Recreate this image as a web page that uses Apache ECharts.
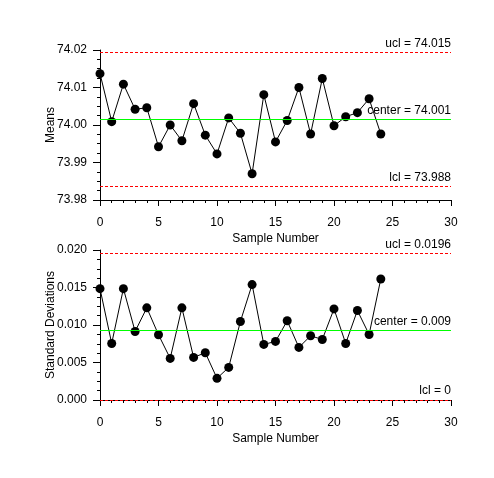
<!DOCTYPE html>
<html>
<head>
<meta charset="utf-8">
<script src="https://cdn.jsdelivr.net/npm/echarts@6/dist/echarts.min.js"></script>
<style>html,body{margin:0;padding:0;background:#fff}#c{width:494px;height:478px}</style>
</head>
<body>
<div id="c"></div>
<script>
const samples = [0,1,2,3,4,5,6,7,8,9,10,11,12,13,14,15,16,17,18,19,20,21,22,23,24];
const means = [74.0137,74.0009,74.0109,74.0042,74.0046,73.9942,74.0000,73.9958,74.0057,73.9973,73.9923,74.0019,73.9978,73.9870,74.0081,73.9955,74.0012,74.0100,73.9976,74.0124,73.9998,74.0022,74.0033,74.0070,73.9976];
const sds = [0.01485,0.00754,0.01485,0.00914,0.01229,0.00870,0.00555,0.01229,0.00568,0.00630,0.00289,0.00435,0.01047,0.01539,0.00741,0.00781,0.01056,0.00701,0.00856,0.00807,0.01215,0.00754,0.01193,0.00874,0.01614];
const meanLimits = [74.01933, 74.00147, 73.98360];
const meanLimitLabels = ['ucl = 74.015', 'center = 74.001', 'lcl = 73.988'];
const sdLimits = [0.019535, 0.009295, 0];
const sdLimitLabels = ['ucl = 0.0196', 'center = 0.009', 'lcl = 0'];
const xTicks = [0, 30, 5];
const meanTicks = [73.98, 74.02, 0.01];
const sdTicks = [0, 0.02, 0.005];

const FONT = 'Liberation Sans';
const chart = echarts.init(document.getElementById('c'));

function xAxis(idx) {
  return {
    type: 'value', gridIndex: idx, min: xTicks[0], max: xTicks[1], interval: xTicks[2],
    name: 'Sample Number', nameLocation: 'middle', nameGap: 33, nameMoveOverlap: false,
    nameTextStyle: {fontFamily: FONT, fontSize: 12, color: '#000'},
    axisLine: {show: true, lineStyle: {color: '#000', width: 1}},
    axisTick: {show: true, length: 6, lineStyle: {color: '#000'}},
    minorTick: {show: true, splitNumber: 5, length: 3, lineStyle: {color: '#000'}},
    axisLabel: {fontFamily: FONT, fontSize: 12, color: '#000', margin: 17},
    splitLine: {show: false}
  };
}
function yAxis(idx, t, name, dec) {
  return {
    type: 'value', gridIndex: idx, min: t[0], max: t[1], interval: t[2],
    name: name, nameLocation: 'middle', nameGap: 43, nameMoveOverlap: false,
    nameTextStyle: {fontFamily: FONT, fontSize: 12, color: '#000'},
    axisLine: {show: true, lineStyle: {color: '#000', width: 1}},
    axisTick: {show: true, length: 7, lineStyle: {color: '#000'}},
    minorTick: {show: true, splitNumber: 4, length: 3, lineStyle: {color: '#000'}},
    axisLabel: {fontFamily: FONT, fontSize: 12, color: '#000', margin: 13,
      formatter: v => v.toFixed(dec)},
    splitLine: {show: false}
  };
}
function limitSeries(idx, v, label, color, type) {
  return {
    type: 'line', xAxisIndex: idx, yAxisIndex: idx, data: [],
    silent: true, animation: false, z: 2,
    markLine: {
      silent: true, symbol: 'none', animation: false, precision: 8,
      lineStyle: {color: color, width: 1, type: type, opacity: 1},
      emphasis: {disabled: true},
      label: {show: true, position: 'insideEndTop', formatter: label,
        fontFamily: FONT, fontSize: 12, color: '#000', distance: [0, 3]},
      data: [{yAxis: v}]
    }
  };
}
function dataSeries(idx, vals) {
  return {
    type: 'line', xAxisIndex: idx, yAxisIndex: idx,
    data: samples.map((s, i) => [s, vals[i]]),
    symbol: 'circle', symbolSize: 9, showAllSymbol: true, clip: false,
    itemStyle: {color: '#000'}, lineStyle: {color: '#000', width: 1},
    animation: false, z: 3
  };
}
const colors = ['#ff0000', '#00ff00', '#ff0000'];
const types = [[3, 2], 'solid', [3, 2]];
const series = [];
meanLimits.forEach((v, i) => series.push(limitSeries(0, v, meanLimitLabels[i], colors[i], types[i])));
sdLimits.forEach((v, i) => series.push(limitSeries(1, v, sdLimitLabels[i], colors[i], types[i])));
series.push(dataSeries(0, means));
series.push(dataSeries(1, sds));

chart.setOption({
  backgroundColor: '#fff',
  animation: false,
  grid: [
    {left: 100, top: 50, width: 351, height: 150},
    {left: 100, top: 250, width: 351, height: 150}
  ],
  xAxis: [xAxis(0), xAxis(1)],
  yAxis: [yAxis(0, meanTicks, 'Means', 2), yAxis(1, sdTicks, 'Standard Deviations', 3)],
  series: series
});
</script>
</body>
</html>
